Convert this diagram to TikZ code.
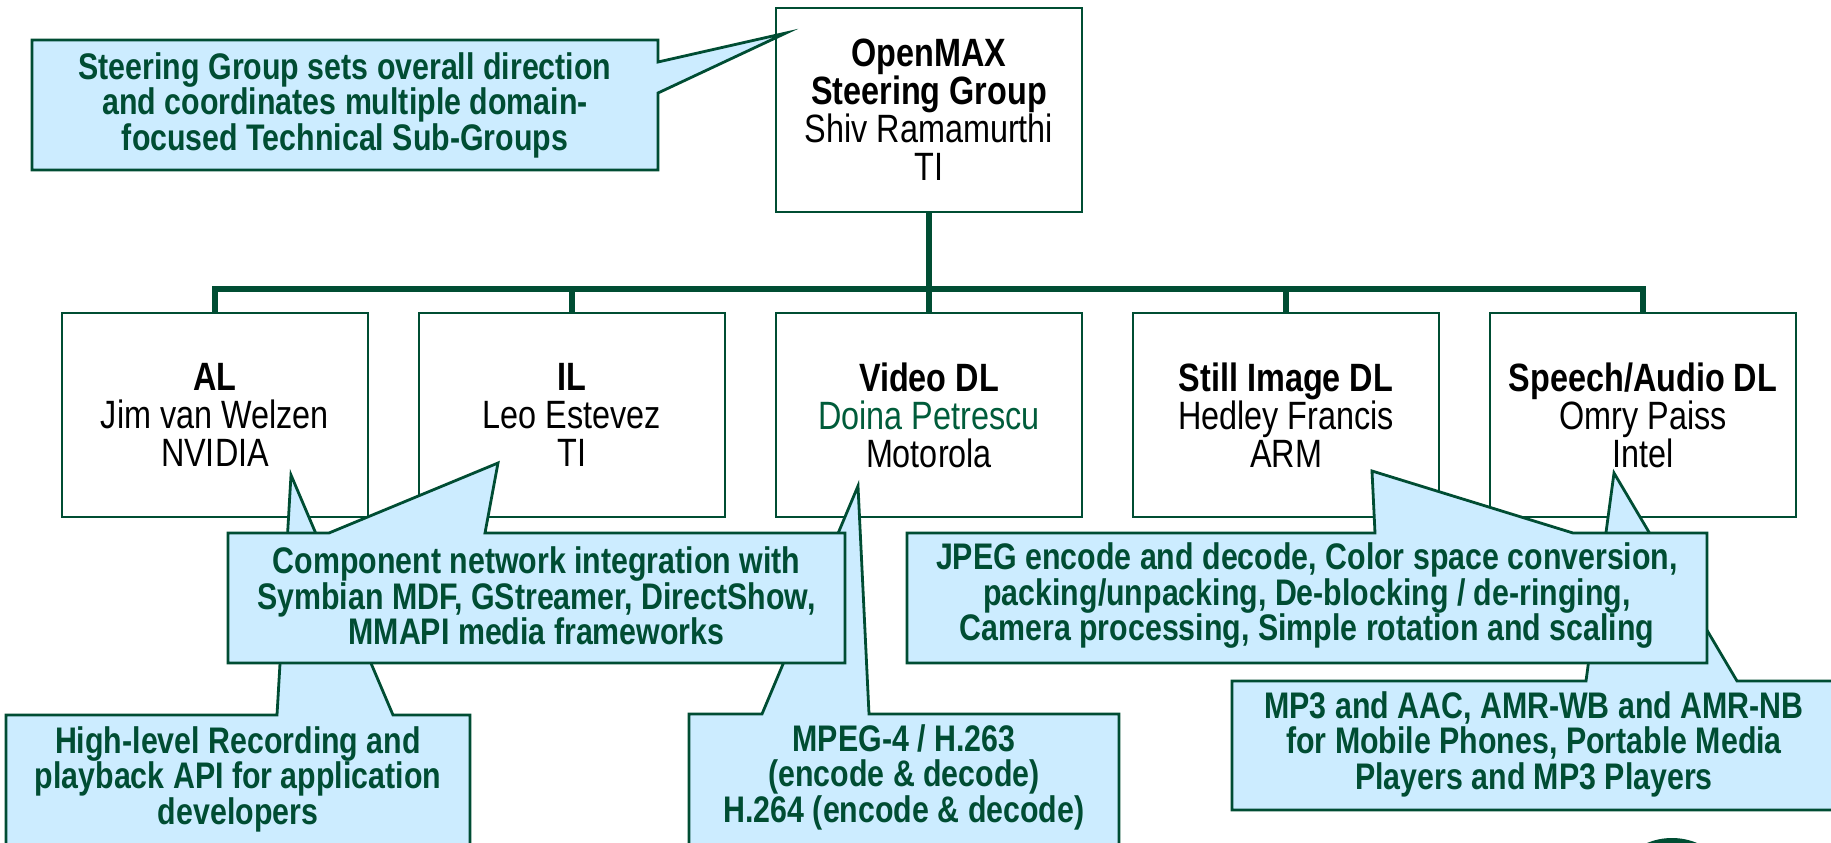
\documentclass[tikz,border=0pt]{standalone}
\usepackage{fontspec}
\setmainfont{Liberation Sans}[FakeStretch=0.82]
\definecolor{dg}{RGB}{0,77,51}
\definecolor{dgt}{RGB}{0,92,58}
\definecolor{cfill}{RGB}{204,236,255}
\begin{document}
\begin{tikzpicture}[x=1pt,y=-1pt,
  orgbox/.style={draw=dg, line width=2pt, fill=white, minimum width=306pt, minimum height=204pt,
    inner sep=0pt, align=center, text=black, font=\fontsize{39.5}{38}\selectfont},
  busline/.style={draw=dg, line width=6pt, line join=miter},
  callout/.style={draw=dg, line width=2.8pt, fill=cfill, line join=miter},
  ctext/.style={align=center, text=dg, inner sep=0pt, font=\fontsize{37}{35.5}\selectfont\bfseries}]
\useasboundingbox (0,0) rectangle (1831,843);
\clip (0,0) rectangle (1831,843);

% boxes
\node[orgbox] (top) at (929,110) {\textbf{OpenMAX}\\\textbf{Steering Group}\\Shiv Ramamurthi\\TI};
\node[orgbox] (al) at (215,415) {\textbf{AL}\\Jim van Welzen\\NVIDIA};
\node[orgbox] (il) at (572,415) {\textbf{IL}\\Leo Estevez\\TI};
\node[orgbox] (vid) at (929,415) {\textbf{Video DL}\\\textcolor{dgt}{Doina Petrescu}\\Motorola};
\node[orgbox] (still) at (1286,415) {\textbf{Still Image DL}\\Hedley Francis\\ARM};
\node[orgbox] (speech) at (1643,415) {\textbf{Speech/Audio DL}\\Omry Paiss\\Intel};

% bus
\coordinate (bus) at (929,289);
\draw[busline] (top.south) -- (bus);
\draw[busline] (bus) -| (al.north);
\draw[busline] (bus) -| (il.north);
\draw[busline] (bus) -- (vid.north);
\draw[busline] (bus) -| (still.north);
\draw[busline] (bus) -| (speech.north);

% top callout
\draw[callout] (32,40) -- (658,40) -- (658,62) -- (786,33) -- (658,93) -- (658,170) -- (32,170) -- cycle;
\node[ctext] (steer) at (345,105) {Steering Group sets overall direction\\and coordinates multiple domain-\\focused Technical Sub-Groups};

% back callouts
\draw[callout] (6,715) -- (277,715) -- (291,475) -- (393,715) -- (470,715) -- (470,860) -- (6,860) -- cycle;
\node[ctext] (alnote) at (238,779) {High-level Recording and\\playback API for application\\developers};

\draw[callout] (689,714) -- (762,714) -- (858,486) -- (869,714) -- (1119,714) -- (1119,860) -- (689,860) -- cycle;
\node[ctext] (vidnote) at (904,777) {MPEG-4 / H.263\\(encode \& decode)\\H.264 (encode \& decode)};

\draw[callout] (1232,681) -- (1586,681) -- (1614,473) -- (1737,681) -- (1845,681) -- (1845,810) -- (1232,810) -- cycle;
\node[ctext] (speechnote) at (1534,744) {MP3 and AAC, AMR-WB and AMR-NB\\for Mobile Phones, Portable Media\\Players and MP3 Players};

% front callouts
\draw[callout] (228,533) -- (329,533) -- (498,463) -- (485,533) -- (845,533) -- (845,663) -- (228,663) -- cycle;
\node[ctext] (ilnote) at (536.5,596) {Component network integration with\\Symbian MDF, GStreamer, DirectShow,\\MMAPI media frameworks};

\draw[callout] (907,533) -- (1375,533) -- (1372,471) -- (1573,533) -- (1707,533) -- (1707,663) -- (907,663) -- cycle;
\node[ctext] (stillnote) at (1307,596) {JPEG encode and decode, Color space conversion,\\packing/unpacking, De-blocking / de-ringing,\\Camera processing, Simple rotation and scaling};

% logo edge
\fill[dg] (1672,903) circle (65);
\end{tikzpicture}
\end{document}
